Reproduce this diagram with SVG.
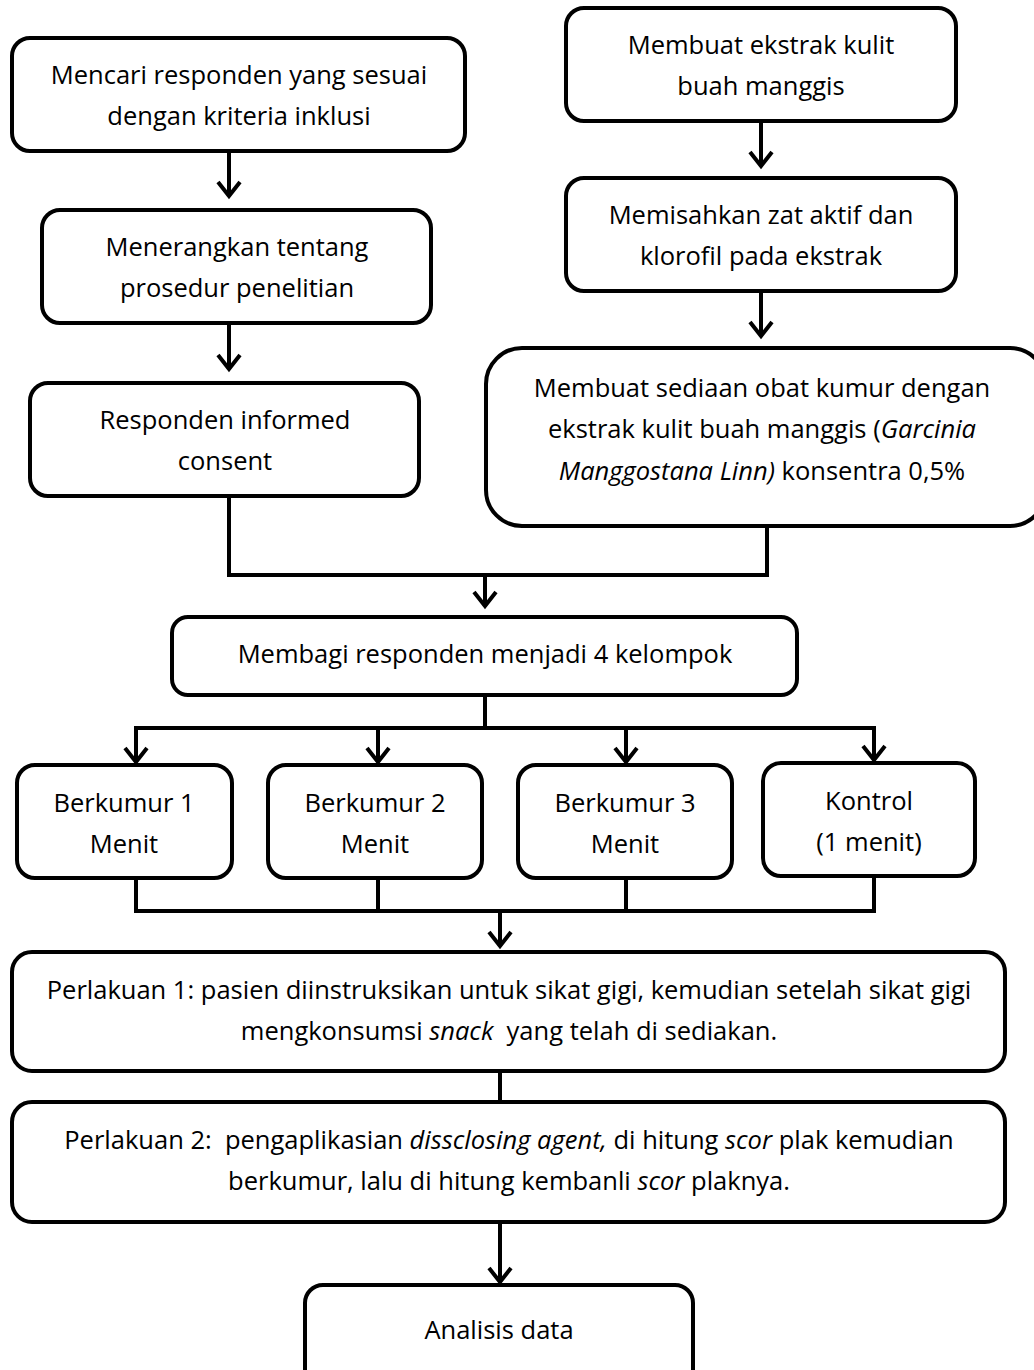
<svg xmlns="http://www.w3.org/2000/svg" width="1034" height="1370" viewBox="0 0 1034 1370">
<defs>
<style>
.box{fill:#fff;stroke:#000;stroke-width:4}
.t{font-family:"Open Sans","Liberation Sans",sans-serif;font-size:25.5px;fill:#000;text-anchor:middle}
.c{fill:none;stroke:#000;stroke-width:4}
.i{font-style:italic}
</style>
<marker id="ah" markerUnits="userSpaceOnUse" markerWidth="26" markerHeight="26" refX="21" refY="13" orient="auto" viewBox="0 0 26 26">
<path d="M7,2 L21,13 L7,24" fill="none" stroke="#000" stroke-width="4"/>
</marker>
</defs>
<rect width="1034" height="1370" fill="#fff"/>
<g id="connectors">
<line class="c" x1="229" y1="151" x2="229" y2="196" marker-end="url(#ah)"/>
<line class="c" x1="229" y1="323" x2="229" y2="369" marker-end="url(#ah)"/>
<line class="c" x1="761" y1="121" x2="761" y2="166" marker-end="url(#ah)"/>
<line class="c" x1="761" y1="291" x2="761" y2="336" marker-end="url(#ah)"/>
<polyline class="c" points="229,496 229,575 767,575 767,526"/>
<line class="c" x1="485" y1="575" x2="485" y2="606" marker-end="url(#ah)"/>
<line class="c" x1="485" y1="695" x2="485" y2="728"/>
<line class="c" x1="134" y1="728" x2="876" y2="728"/>
<line class="c" x1="136" y1="728" x2="136" y2="762" marker-end="url(#ah)"/>
<line class="c" x1="378" y1="728" x2="378" y2="762" marker-end="url(#ah)"/>
<line class="c" x1="626" y1="728" x2="626" y2="762" marker-end="url(#ah)"/>
<line class="c" x1="874" y1="728" x2="874" y2="760" marker-end="url(#ah)"/>
<line class="c" x1="136" y1="878" x2="136" y2="911"/>
<line class="c" x1="378" y1="878" x2="378" y2="911"/>
<line class="c" x1="626" y1="878" x2="626" y2="911"/>
<line class="c" x1="874" y1="876" x2="874" y2="911"/>
<line class="c" x1="134" y1="911" x2="876" y2="911"/>
<line class="c" x1="500" y1="911" x2="500" y2="946" marker-end="url(#ah)"/>
<line class="c" x1="500" y1="1071" x2="500" y2="1102"/>
<line class="c" x1="500" y1="1222" x2="500" y2="1282" marker-end="url(#ah)"/>
</g>
<g id="n1"><rect class="box" x="12" y="38" width="453" height="113" rx="18"/>
<text class="t" x="239" y="84">Mencari responden yang sesuai</text>
<text class="t" x="239" y="125">dengan kriteria inklusi</text></g>
<g id="n2"><rect class="box" x="566" y="8" width="390" height="113" rx="18"/>
<text class="t" x="761" y="54">Membuat ekstrak kulit</text>
<text class="t" x="761" y="95">buah manggis</text></g>
<g id="n3"><rect class="box" x="42" y="210" width="389" height="113" rx="18"/>
<text class="t" x="237" y="256">Menerangkan tentang</text>
<text class="t" x="237" y="297">prosedur penelitian</text></g>
<g id="n4"><rect class="box" x="566" y="178" width="390" height="113" rx="18"/>
<text class="t" x="761" y="224">Memisahkan zat aktif dan</text>
<text class="t" x="761" y="265">klorofil pada ekstrak</text></g>
<g id="n5"><rect class="box" x="30" y="383" width="389" height="113" rx="18"/>
<text class="t" x="225" y="429">Responden informed</text>
<text class="t" x="225" y="470">consent</text></g>
<g id="n6"><rect class="box" x="486" y="348" width="560" height="178" rx="36"/>
<text class="t" x="762" y="397">Membuat sediaan obat kumur dengan</text>
<text class="t" x="762" y="438">ekstrak kulit buah manggis (<tspan class="i">Garcinia</tspan></text>
<text class="t" x="762" y="480"><tspan class="i">Manggostana Linn)</tspan> konsentra 0,5%</text></g>
<g id="n7"><rect class="box" x="172" y="617" width="625" height="78" rx="16"/>
<text class="t" x="485" y="663">Membagi responden menjadi 4 kelompok</text></g>
<g id="n8"><rect class="box" x="17" y="765" width="215" height="113" rx="18"/>
<text class="t" x="124" y="812">Berkumur 1</text>
<text class="t" x="124" y="853">Menit</text></g>
<g id="n9"><rect class="box" x="268" y="765" width="214" height="113" rx="18"/>
<text class="t" x="375" y="812">Berkumur 2</text>
<text class="t" x="375" y="853">Menit</text></g>
<g id="n10"><rect class="box" x="518" y="765" width="214" height="113" rx="18"/>
<text class="t" x="625" y="812">Berkumur 3</text>
<text class="t" x="625" y="853">Menit</text></g>
<g id="n11"><rect class="box" x="763" y="763" width="212" height="113" rx="18"/>
<text class="t" x="869" y="810">Kontrol</text>
<text class="t" x="869" y="851">(1 menit)</text></g>
<g id="n12"><rect class="box" x="12" y="952" width="993" height="119" rx="20"/>
<text class="t" x="509" y="999">Perlakuan 1: pasien diinstruksikan untuk sikat gigi, kemudian setelah sikat gigi</text>
<text class="t" x="509" y="1040" xml:space="preserve">mengkonsumsi <tspan class="i">snack</tspan>  yang telah di sediakan.</text></g>
<g id="n13"><rect class="box" x="12" y="1102" width="993" height="120" rx="20"/>
<text class="t" x="509" y="1149" xml:space="preserve">Perlakuan 2:  pengaplikasian <tspan class="i">dissclosing agent,</tspan> di hitung <tspan class="i">scor</tspan> plak kemudian</text>
<text class="t" x="509" y="1190">berkumur, lalu di hitung kembanli <tspan class="i">scor</tspan> plaknya.</text></g>
<g id="n14"><rect class="box" x="305" y="1285" width="388" height="110" rx="18"/>
<text class="t" x="499" y="1339">Analisis data</text></g>
</svg>
